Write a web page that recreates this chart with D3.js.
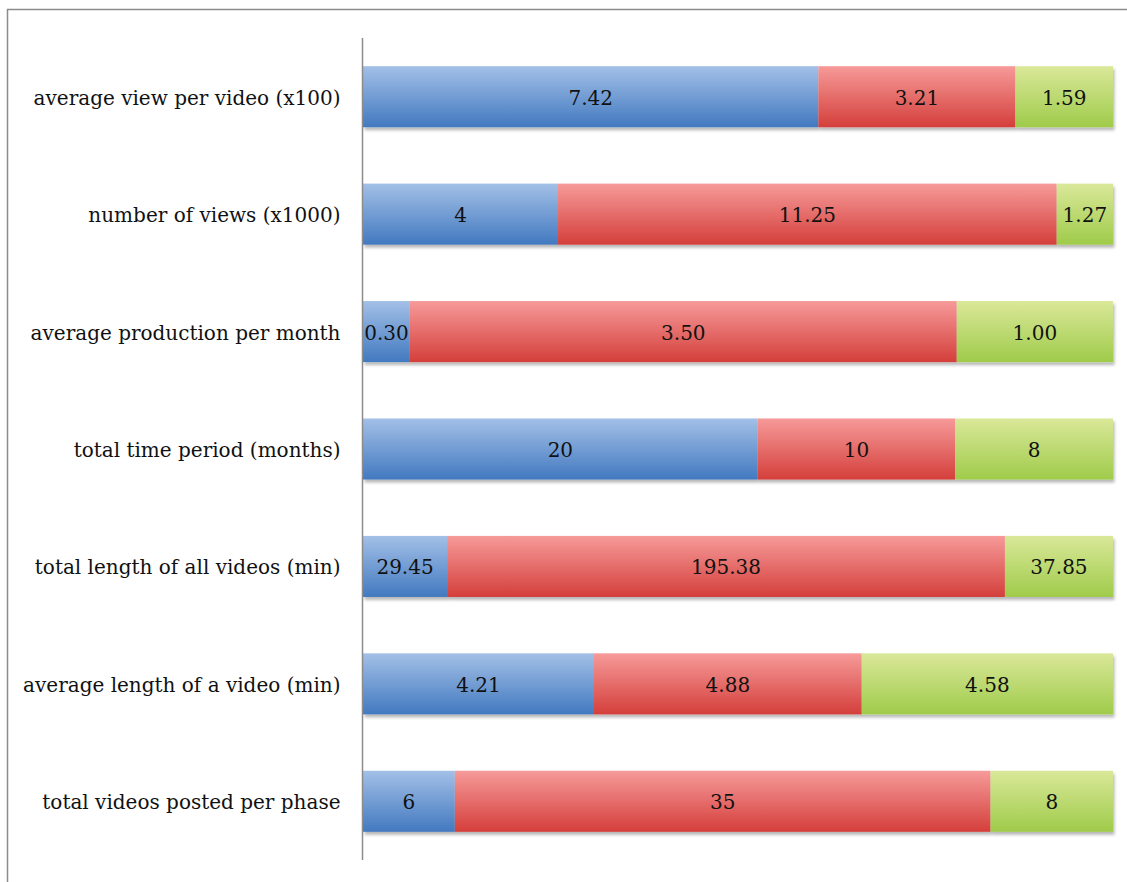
<!DOCTYPE html>
<html>
<head>
<meta charset="utf-8">
<script src="https://cdn.jsdelivr.net/npm/d3@7"></script>
<style>
  body { margin: 0; background: #fff; }
</style>
</head>
<body>
<div id="chart"></div>
<script>
// categories, top to bottom
const categories = [
  "average view per video (x100)",
  "number of views (x1000)",
  "average production per month",
  "total time period (months)",
  "total length of all videos (min)",
  "average length of a video (min)",
  "total videos posted per phase",
];

// one array per phase (segment sizes)
const phase1 = [7.42, 4.4, 0.3, 20, 29.45, 4.21, 6];
const phase2 = [3.21, 11.25, 3.5, 10, 195.38, 4.88, 35];
const phase3 = [1.59, 1.27, 1.0, 8, 37.85, 4.58, 8];

// data labels as printed on the bars
const phase1Labels = ["7.42", "4", "0.30", "20", "29.45", "4.21", "6"];
const phase2Labels = ["3.21", "11.25", "3.50", "10", "195.38", "4.88", "35"];
const phase3Labels = ["1.59", "1.27", "1.00", "8", "37.85", "4.58", "8"];

const series = [phase1, phase2, phase3];
const seriesLabels = [phase1Labels, phase2Labels, phase3Labels];
const seriesKeys = ["phase1", "phase2", "phase3"];

let width = 1127;
let height = 882;
let margin = { top: 38, right: 14, bottom: 22, left: 363 };
let font = "'DejaVu Serif', serif";

let svg = d3
  .select("#chart")
  .append("svg")
  .attr("width", width)
  .attr("height", height);

let defs = svg.append("defs");

let gradColors = [
  ["#a3c0e7", "#4279c0"],
  ["#f69a99", "#d43f3b"],
  ["#dae899", "#9fcb4a"],
];

gradColors.forEach((c, i) => {
  let g = defs
    .append("linearGradient")
    .attr("id", "grad" + i)
    .attr("x1", "0%")
    .attr("x2", "0%")
    .attr("y1", "0%")
    .attr("y2", "100%");
  g.append("stop").attr("offset", "0%").attr("stop-color", c[0]);
  g.append("stop").attr("offset", "100%").attr("stop-color", c[1]);
});

let shadow = defs
  .append("filter")
  .attr("id", "shadow")
  .attr("x", "-5%")
  .attr("y", "-20%")
  .attr("width", "110%")
  .attr("height", "150%");
shadow
  .append("feDropShadow")
  .attr("dx", 1.5)
  .attr("dy", 3)
  .attr("stdDeviation", 1.5)
  .attr("flood-color", "#000")
  .attr("flood-opacity", 0.28);

// outer frame, cut off on the right and bottom like the source
svg
  .append("rect")
  .attr("x", 7.5)
  .attr("y", 9.5)
  .attr("width", 1125)
  .attr("height", 900)
  .attr("fill", "none")
  .attr("stroke", "#8c8c8c")
  .attr("stroke-width", 1.5);

// normalise each row to 100%
let rows = categories.map((cat, i) => {
  let row = { category: cat, index: i };
  seriesKeys.forEach((k, j) => (row[k] = series[j][i]));
  let total = d3.sum(seriesKeys, (k) => row[k]);
  seriesKeys.forEach((k) => (row[k + "_pct"] = row[k] / total));
  return row;
});

let stacked = d3.stack().keys(seriesKeys.map((k) => k + "_pct"))(rows);

let xScale = d3
  .scaleLinear()
  .domain([0, 1])
  .range([margin.left, width - margin.right]);

let yScale = d3
  .scaleBand()
  .domain(categories)
  .range([margin.top, height - margin.bottom])
  .paddingInner(0.48)
  .paddingOuter(0.24);

let layers = svg
  .append("g")
  .attr("filter", "url(#shadow)")
  .selectAll("g")
  .data(stacked)
  .join("g")
  .attr("fill", (d, i) => `url(#grad${i})`);

layers
  .selectAll("rect")
  .data((d) => d)
  .join("rect")
  .attr("x", (d) => xScale(d[0]))
  .attr("y", (d) => yScale(d.data.category))
  .attr("width", (d) => xScale(d[1]) - xScale(d[0]))
  .attr("height", yScale.bandwidth());

// value labels
stacked.forEach((layer, i) => {
  svg
    .append("g")
    .selectAll("text")
    .data(layer)
    .join("text")
    .attr("x", (d) => (xScale(d[0]) + xScale(d[1])) / 2)
    .attr("y", (d) => yScale(d.data.category) + yScale.bandwidth() / 2)
    .attr("dy", "0.4em")
    .attr("text-anchor", "middle")
    .style("font-family", font)
    .style("font-size", "20px")
    .style("fill", "#111")
    .text((d) => seriesLabels[i][d.data.index]);
});

// category axis
svg
  .append("g")
  .attr("transform", `translate(${margin.left - 0.5}, 0)`)
  .call(d3.axisLeft(yScale).tickSize(0).tickPadding(22))
  .call((g) =>
    g
      .select(".domain")
      .attr("d", `M0,${margin.top}V${height - margin.bottom}`)
      .attr("stroke", "#8c8c8c")
      .attr("stroke-width", 1.5)
  )
  .call((g) =>
    g
      .selectAll("text")
      .attr("dy", "0.4em")
      .style("font-family", font)
      .style("font-size", "20px")
      .style("fill", "#111")
  );
</script>
</body>
</html>
